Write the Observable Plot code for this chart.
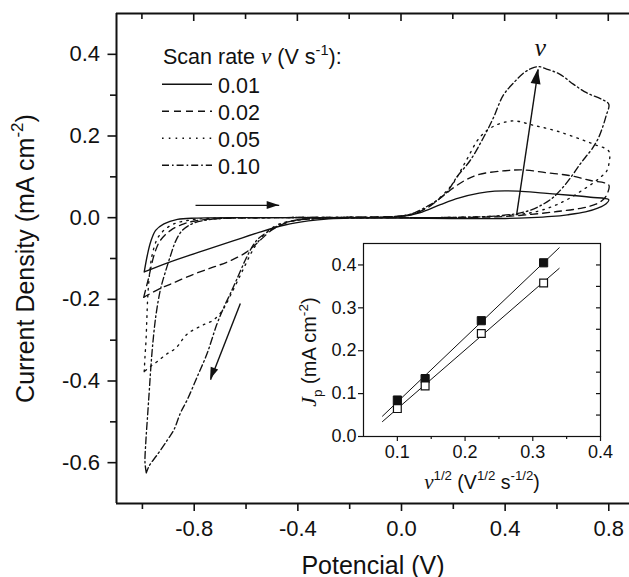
<!DOCTYPE html>
<html><head><meta charset="utf-8">
<script src="https://cdn.jsdelivr.net/npm/d3@7"></script>
<script src="https://cdn.jsdelivr.net/npm/@observablehq/plot@0.6"></script>
<style>
html,body{margin:0;padding:0;background:#fff;}
#wrap{position:relative;width:629px;height:577px;overflow:hidden;}
#inset{position:absolute;left:300px;top:235px;}
</style></head><body><div id="wrap"><div id="main"></div><div id="inset"></div></div>
<script>
// ---------- DATA ----------
const scanRates = ["0.01", "0.02", "0.05", "0.10"];

// Cyclic voltammograms: [potential (V), current density (mA cm^-2)], traced around each loop
const cv001 = [[-0.993,-0.133],[-0.981,-0.092],[-0.968,-0.059],[-0.949,-0.031],[-0.917,-0.015],[-0.865,-0.004],[-0.79,-0.001],[-0.6,0.0],[-0.4,0.0],[-0.2,0.0],[0.0,0.003],[0.07,0.012],[0.15,0.032],[0.22,0.048],[0.3,0.06],[0.36,0.065],[0.45,0.065],[0.55,0.06],[0.65,0.055],[0.73,0.05],[0.8,0.044],
  [0.79,0.034],[0.76,0.024],[0.71,0.014],[0.64,0.007],[0.58,0.003],[0.5,0.0],[0.4,-0.002],[0.2,-0.002],[0.0,-0.001],[-0.2,-0.001],[-0.28,-0.003],[-0.36,-0.008],[-0.45,-0.018],[-0.55,-0.036],[-0.65,-0.057],[-0.77,-0.082],[-0.9,-0.11],[-0.993,-0.133]];
const cv002 = [[-0.995,-0.195],[-0.985,-0.17],[-0.975,-0.145],[-0.962,-0.108],[-0.949,-0.08],[-0.93,-0.055],[-0.891,-0.031],[-0.84,-0.015],[-0.788,-0.007],[-0.7,-0.002],[-0.5,0.0],[-0.2,0.001],[0.0,0.004],[0.05,0.01],[0.1,0.024],[0.15,0.048],[0.2,0.073],[0.25,0.093],[0.3,0.106],[0.4,0.115],[0.47,0.117],[0.56,0.11],[0.65,0.103],[0.73,0.091],[0.8,0.08],
  [0.795,0.06],[0.78,0.045],[0.75,0.033],[0.7,0.024],[0.6,0.015],[0.5,0.008],[0.4,0.003],[0.3,0.001],[0.1,0.0],[-0.1,0.0],[-0.3,-0.001],[-0.4,-0.005],[-0.45,-0.014],[-0.5,-0.03],[-0.55,-0.058],[-0.6,-0.085],[-0.67,-0.108],[-0.73,-0.122],[-0.8,-0.138],[-0.885,-0.161],[-0.94,-0.176],[-0.995,-0.195]];
const cv005 = [[-0.993,-0.377],[-0.99,-0.34],[-0.986,-0.3],[-0.983,-0.25],[-0.979,-0.19],[-0.972,-0.135],[-0.962,-0.09],[-0.942,-0.051],[-0.917,-0.031],[-0.878,-0.015],[-0.827,-0.007],[-0.75,-0.002],[-0.5,0.0],[-0.2,0.001],[0.0,0.004],[0.05,0.01],[0.1,0.026],[0.15,0.05],[0.2,0.085],[0.25,0.14],[0.3,0.195],[0.35,0.222],[0.43,0.237],[0.51,0.226],[0.6,0.212],[0.7,0.19],[0.75,0.178],[0.8,0.163],
  [0.8,0.13],[0.79,0.112],[0.77,0.1],[0.74,0.085],[0.7,0.068],[0.65,0.048],[0.6,0.032],[0.55,0.02],[0.5,0.012],[0.42,0.006],[0.3,0.002],[0.1,0.0],[-0.1,0.0],[-0.3,-0.002],[-0.4,-0.006],[-0.47,-0.015],[-0.52,-0.035],[-0.56,-0.065],[-0.583,-0.09],[-0.6,-0.112],[-0.622,-0.141],[-0.66,-0.19],[-0.686,-0.222],[-0.724,-0.25],[-0.77,-0.264],[-0.827,-0.285],[-0.872,-0.32],[-0.904,-0.333],[-0.942,-0.352],[-0.968,-0.364],[-0.993,-0.377]];
const cv010 = [[-0.985,-0.625],[-0.99,-0.6],[-0.987,-0.551],[-0.981,-0.494],[-0.974,-0.429],[-0.968,-0.372],[-0.961,-0.316],[-0.948,-0.24],[-0.93,-0.175],[-0.91,-0.13],[-0.891,-0.092],[-0.872,-0.058],[-0.846,-0.031],[-0.808,-0.015],[-0.763,-0.007],[-0.7,-0.002],[-0.5,0.0],[-0.2,0.001],[0.0,0.004],[0.05,0.012],[0.1,0.028],[0.137,0.042],[0.176,0.063],[0.214,0.1],[0.265,0.14],[0.317,0.197],[0.355,0.245],[0.393,0.3],[0.44,0.335],[0.475,0.356],[0.5,0.365],[0.528,0.37],[0.56,0.364],[0.612,0.351],[0.663,0.327],[0.714,0.306],[0.772,0.29],[0.8,0.278],
  [0.79,0.25],[0.778,0.225],[0.76,0.195],[0.735,0.168],[0.71,0.148],[0.688,0.13],[0.663,0.107],[0.624,0.075],[0.586,0.05],[0.547,0.033],[0.496,0.018],[0.445,0.01],[0.38,0.005],[0.3,0.002],[0.1,0.0],[-0.1,0.0],[-0.3,-0.002],[-0.4,-0.006],[-0.46,-0.015],[-0.517,-0.035],[-0.55,-0.05],[-0.57,-0.065],[-0.6,-0.1],[-0.635,-0.15],[-0.66,-0.185],[-0.686,-0.22],[-0.712,-0.26],[-0.75,-0.332],[-0.788,-0.389],[-0.827,-0.446],[-0.853,-0.478],[-0.878,-0.519],[-0.904,-0.545],[-0.942,-0.58],[-0.974,-0.608],[-0.985,-0.625]];
const cvCurves = [cv001, cv002, cv005, cv010];

// annotation arrows [x1, y1, x2, y2] in data units
const scanArrows = [[-0.795, 0.03, -0.472, 0.03], [-0.622, -0.21, -0.737, -0.397]];
const rateArrow = [[0.445, 0.01, 0.528, 0.363]];

// main axes ticks
const xMajorTicks = [-0.8, -0.4, 0.0, 0.4, 0.8];
const xMinorTicks = [-1.0, -0.6, -0.2, 0.2, 0.6];
const yMajorTicks = [-0.6, -0.4, -0.2, 0.0, 0.2, 0.4];
const yMinorTicks = [-0.5, -0.3, -0.1, 0.1, 0.3];

// inset: peak current density vs square root of scan rate
const sqrtScanRate = [0.1, 0.141, 0.224, 0.316];
const jpFilled = [0.085, 0.135, 0.27, 0.405];
const jpOpen = [0.065, 0.118, 0.24, 0.358];
const fitRange = [0.078, 0.339];
const insetXMajor = [0.1, 0.2, 0.3, 0.4];
const insetXMinor = [0.15, 0.25, 0.35];
const insetYMajor = [0.0, 0.1, 0.2, 0.3, 0.4];
const insetYAll = [0.05, 0.1, 0.15, 0.2, 0.25, 0.3, 0.35, 0.4];

// ---------- STYLE ----------
const INK = "#111";
const SANS = "'Liberation Sans', Arial, Helvetica, sans-serif";
const SERIF = "'Liberation Serif', 'Times New Roman', serif";
const dashFor = {"0.01": null, "0.02": "7,5", "0.05": "1.6,5.2", "0.10": "7,3,1.6,3"};
const fmt1 = d => d.toFixed(1);
const blank = () => "";

// ---------- helpers ----------
function richText(svg) {
  d3.select(svg).selectAll("text").each(function () {
    const t = this.textContent;
    if (!/\^\{|_\{|\*/.test(t)) return;
    const fs = parseFloat(getComputedStyle(this).fontSize);
    const parts = [];
    const re = /\^\{([^}]*)\}|_\{([^}]*)\}|\*([^*]*)\*/g;
    let last = 0, m;
    while ((m = re.exec(t))) {
      if (m.index > last) parts.push({s: t.slice(last, m.index), k: "n"});
      if (m[1] != null) parts.push({s: m[1], k: "sup"});
      else if (m[2] != null) parts.push({s: m[2], k: "sub"});
      else parts.push({s: m[3], k: "it"});
      last = re.lastIndex;
    }
    if (last < t.length) parts.push({s: t.slice(last), k: "n"});
    this.textContent = "";
    let shift = 0;
    for (const p of parts) {
      const ts = d3.select(this).append("tspan").text(p.s);
      const target = p.k === "sup" ? -0.42 * fs : p.k === "sub" ? 0.28 * fs : 0;
      if (target !== shift) { ts.attr("dy", target - shift); shift = target; }
      if (p.k === "sup" || p.k === "sub") ts.attr("font-size", 0.68 * fs);
      if (p.k === "it") ts.attr("font-family", SERIF).attr("font-style", "italic").attr("font-size", 1.08 * fs);
    }
  });
}
// filled triangular arrow heads placed with the plot's own scales
function drawHeads(svg, arrows, len, wid) {
  const sx = svg.scale("x"), sy = svg.scale("y");
  const g = d3.select(svg).append("g").attr("fill", INK);
  arrows.forEach(([x1, y1, x2, y2]) => {
    const px1 = sx.apply(x1), py1 = sy.apply(y1), px2 = sx.apply(x2), py2 = sy.apply(y2);
    const a = Math.atan2(py2 - py1, px2 - px1);
    const bx = px2 - len * Math.cos(a), by = py2 - len * Math.sin(a);
    const nx = -Math.sin(a) * wid / 2, ny = Math.cos(a) * wid / 2;
    g.append("path").attr("d", `M${px2},${py2}L${bx + nx},${by + ny}L${bx - nx},${by - ny}Z`);
  });
}
// inward mirror ticks along the top edge, drawn with the plot's x scale
function drawTopTicks(svg, ticks, len, topY) {
  const sx = svg.scale("x");
  const g = d3.select(svg).append("g").attr("stroke", INK).attr("stroke-width", 1.6);
  ticks.forEach(v => {
    const px = sx.apply(v);
    g.append("line").attr("x1", px).attr("x2", px).attr("y1", topY).attr("y2", topY + len);
  });
}
function fitLine(xs, ys) {
  const mx = d3.mean(xs), my = d3.mean(ys);
  const sxy = d3.sum(xs, (x, i) => (x - mx) * (ys[i] - my));
  const sxx = d3.sum(xs, x => (x - mx) ** 2);
  const b = sxy / sxx, a = my - b * mx;
  return fitRange.map(x => ({x, y: a + b * x}));
}

// ---------- MAIN CHART ----------
const xDomain = [-1.1, 0.88], yDomain = [-0.7, 0.5];
const MT = 13;
const curveMarks = scanRates.map((r, i) => Plot.line(cvCurves[i], {
  x: d => d[0], y: d => d[1], stroke: INK, strokeWidth: 1.35,
  strokeDasharray: dashFor[r], curve: "catmull-rom"
}));

const main = Plot.plot({
  width: 629, height: 577,
  marginLeft: 116, marginRight: 0, marginTop: MT, marginBottom: 74,
  x: {domain: xDomain, label: null},
  y: {domain: yDomain, label: null},
  style: {fontFamily: SANS, color: INK, background: "transparent", overflow: "visible"},
  marks: [
    ...curveMarks,
    Plot.axisX({ticks: xMajorTicks, tickSize: 8, tickPadding: 9, tickFormat: fmt1, fontSize: 22, strokeWidth: 1.6, label: null}),
    Plot.axisX({ticks: xMinorTicks, tickSize: 6, tickFormat: blank, strokeWidth: 1.6, label: null}),
    Plot.axisY({ticks: yMajorTicks, tickSize: 8.5, tickPadding: 8, tickFormat: fmt1, fontSize: 22, strokeWidth: 1.6, label: null}),
    Plot.axisY({ticks: yMinorTicks, tickSize: 6, tickFormat: blank, strokeWidth: 1.6, label: null}),
    Plot.ruleX([xDomain[0]], {stroke: INK, strokeWidth: 2}),
    Plot.ruleY(yDomain, {stroke: INK, strokeWidth: 2}),
    Plot.link(scanArrows, {x1: d => d[0], y1: d => d[1], x2: d => d[2], y2: d => d[3], stroke: INK, strokeWidth: 1.4}),
    Plot.link(rateArrow, {x1: d => d[0], y1: d => d[1], x2: d => d[2], y2: d => d[3], stroke: INK, strokeWidth: 1.4}),
    Plot.text(rateArrow, {x: d => d[2], y: d => d[3], text: () => "*ν*", dx: 2, dy: -13, lineAnchor: "bottom", textAnchor: "middle", fontSize: 24}),
    Plot.text(["Potencial (V)"], {text: d => d, frameAnchor: "bottom", dy: 70, lineAnchor: "bottom", textAnchor: "middle", fontSize: 25}),
    Plot.text(["Current Density (mA cm^{-2})"], {text: d => d, frameAnchor: "left", rotate: -90, dx: -91, lineAnchor: "middle", textAnchor: "middle", fontSize: 25})
  ]
});
document.getElementById("main").appendChild(main);

// legend (inside the plot area)
const lg = d3.select(main).append("g").attr("font-family", SANS).attr("font-size", 21.5).attr("fill", INK).attr("text-anchor", "start");
lg.append("text").attr("x", 163).attr("y", 64).text("Scan rate *ν* (V s^{-1}):");
scanRates.forEach((r, i) => {
  const y = 84.3 + i * 27;
  lg.append("line").attr("x1", 162).attr("x2", 212).attr("y1", y).attr("y2", y)
    .attr("stroke", INK).attr("stroke-width", 1.4).attr("stroke-dasharray", dashFor[r]);
  lg.append("text").attr("x", 218).attr("y", y + 8.5).text(r);
});
drawHeads(main, scanArrows, 12, 8);
drawHeads(main, rateArrow, 15, 10);
drawTopTicks(main, xMajorTicks, 8, MT);
drawTopTicks(main, xMinorTicks, 6, MT);
richText(main);

// ---------- INSET ----------
const fitFilled = fitLine(sqrtScanRate, jpFilled);
const fitOpen = fitLine(sqrtScanRate, jpOpen);
const insetXDomain = [0.05, 0.4], insetYDomain = [0, 0.45];
const insetFrameW = 310 - 63 - 10;
const xPerPxInset = (insetXDomain[1] - insetXDomain[0]) / insetFrameW;
const inset = Plot.plot({
  width: 310, height: 270,
  marginLeft: 63, marginRight: 10, marginTop: 8, marginBottom: 69,
  x: {domain: insetXDomain, label: null},
  y: {domain: insetYDomain, label: null},
  style: {fontFamily: SANS, color: INK, background: "transparent", overflow: "visible"},
  marks: [
    Plot.frame({stroke: INK, strokeWidth: 1.2}),
    Plot.axisX({ticks: insetXMajor, tickSize: 5, tickPadding: 4, tickFormat: fmt1, fontSize: 18, strokeWidth: 1.2, label: null}),
    Plot.axisX({ticks: insetXMinor, tickSize: 3, tickFormat: blank, strokeWidth: 1.2, label: null}),
    Plot.axisY({ticks: insetYMajor, tickSize: 5, tickPadding: 2, tickFormat: fmt1, fontSize: 18, strokeWidth: 1.2, label: null}),
    Plot.ruleY(insetYAll, {y: d => d, x1: insetXDomain[1], x2: insetXDomain[1] - 4 * xPerPxInset, stroke: INK, strokeWidth: 1.2}),
    Plot.line(fitFilled, {x: "x", y: "y", stroke: INK, strokeWidth: 1}),
    Plot.line(fitOpen, {x: "x", y: "y", stroke: INK, strokeWidth: 1}),
    Plot.dot(sqrtScanRate.map((x, i) => [x, jpFilled[i]]), {x: d => d[0], y: d => d[1], symbol: "square", r: 4.6, fill: INK, stroke: INK, strokeWidth: 1}),
    Plot.dot(sqrtScanRate.map((x, i) => [x, jpOpen[i]]), {x: d => d[0], y: d => d[1], symbol: "square", r: 4.4, fill: "white", stroke: INK, strokeWidth: 1.2}),
    Plot.text(["*ν*^{1/2} (V^{1/2} s^{-1/2})"], {text: d => d, frameAnchor: "bottom", dy: 52, lineAnchor: "bottom", textAnchor: "middle", fontSize: 19.5}),
    Plot.text(["*J*_{p} (mA cm^{-2})"], {text: d => d, frameAnchor: "left", rotate: -90, dx: -54, dy: 12, lineAnchor: "middle", textAnchor: "middle", fontSize: 20})
  ]
});
document.getElementById("inset").appendChild(inset);
richText(inset);
</script>
</body></html>
